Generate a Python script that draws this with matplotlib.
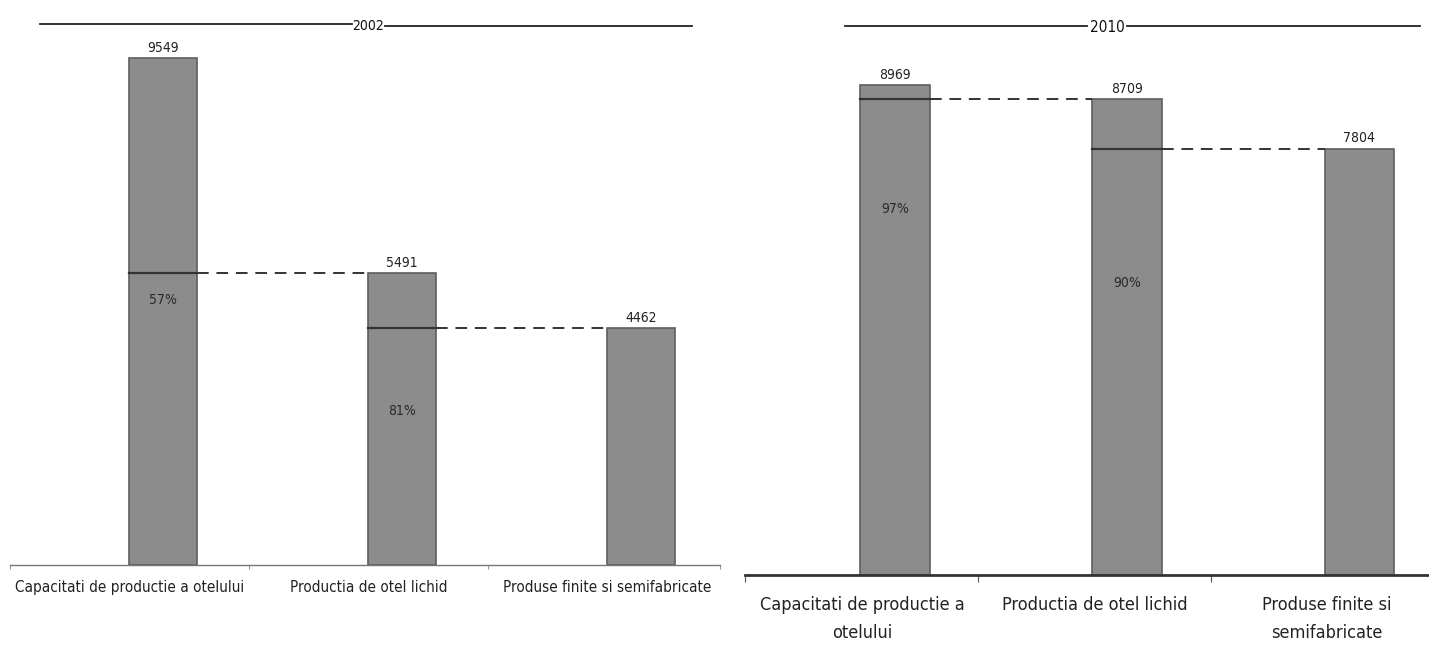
import matplotlib
matplotlib.use("Agg")
import matplotlib.pyplot as plt

plt.rcParams['font.family'] = ['DejaVu Sans']
plt.rcParams['font.stretch'] = 'condensed'

# ---------- data ----------
categories_2002 = ["Capacitati de productie a otelului", "Productia de otel lichid",
                   "Produse finite si semifabricate"]
values_2002 = [9549, 5491, 4462]
pct_2002 = ["57%", "81%"]

categories_2010 = ["Capacitati de productie a\notelului", "Productia de otel lichid",
                   "Produse finite si\nsemifabricate"]
values_2010 = [8969, 8709, 7804]
pct_2010 = ["97%", "90%"]

BAR = "#8c8c8c"
EDGE = "#5e5e5e"
W, H = 1429, 653


def panel(rect, vals, pcts, pct_frac, ymax, xlim, width, spine_col, spine_lw):
    ax = fig.add_axes(rect)
    x = list(range(len(vals)))
    ax.bar(x, vals, width=width, color=BAR, edgecolor=EDGE, linewidth=1.2, zorder=2)
    # value labels on top
    for xi, v in zip(x, vals):
        ax.text(xi, v + ymax * 0.006, str(v), ha="center", va="bottom", fontsize=10, color="#222222")
    # connector: solid across current bar, dashed to next bar
    for i in range(len(vals) - 1):
        nxt = vals[i + 1]
        ax.plot([i - width / 2, i + width / 2], [nxt, nxt], color="#333333", lw=1.6, zorder=3)
        ax.plot([i + width / 2, i + 1 - width / 2], [nxt, nxt], color="#333333", lw=1.4,
                ls=(0, (6, 4)), zorder=3)
        ax.text(i, nxt * pct_frac[i], pcts[i], ha="center", va="center", fontsize=10,
                color="#2a2a2a", zorder=4)
    ax.set_xlim(*xlim)
    ax.set_ylim(0, ymax)
    for s in ["left", "right", "top"]:
        ax.spines[s].set_visible(False)
    ax.spines["bottom"].set_color(spine_col)
    ax.spines["bottom"].set_linewidth(spine_lw)
    ax.set_yticks([])
    return ax


fig = plt.figure(figsize=(W / 100, H / 100), dpi=100)

# ----- 2002 -----
ax1 = panel([10 / W, 1 - 565 / H, 710 / W, 555 / H], values_2002, pct_2002,
            [0.91, 0.65], 10453, (-0.64, 2.33), 0.285, "#777777", 1.0)
ax1.set_xticks([-0.64, 0.36, 1.36, 2.33])
ax1.set_xticklabels([])
ax1.tick_params(axis="x", length=3, color="#999999")
ax1.set_xticks([-0.14, 0.86, 1.86], minor=True)
ax1.set_xticklabels(categories_2002, minor=True, fontsize=11, color="#222222")
ax1.tick_params(axis="x", which="minor", length=0, pad=11)

# ----- 2010 -----
ax2 = panel([745 / W, 1 - 575 / H, 684 / W, 565 / H], values_2010, pct_2010,
            [0.77, 0.685], 10342, (-0.647, 2.30), 0.30, "#333333", 2.0)
ax2.set_xticks([-0.647, 0.357, 1.36])
ax2.set_xticklabels([])
ax2.tick_params(axis="x", length=5, color="#555555")
ax2.set_xticks([-0.14, 0.86, 1.86], minor=True)
ax2.set_xticklabels(categories_2010, minor=True, fontsize=13, color="#222222", linespacing=1.7)
ax2.tick_params(axis="x", which="minor", length=0, pad=15)

# ----- panel titles with rules -----
fig.add_artist(plt.Line2D([40 / W, 352 / W], [1 - 24 / H] * 2, color="#222222", lw=1.3))
fig.add_artist(plt.Line2D([385 / W, 692 / W], [1 - 26 / H] * 2, color="#222222", lw=1.3))
fig.text(368 / W, 1 - 26 / H, "2002", ha="center", va="center", fontsize=10, color="#111111")

fig.add_artist(plt.Line2D([845 / W, 1087 / W], [1 - 26 / H] * 2, color="#222222", lw=1.3))
fig.add_artist(plt.Line2D([1127 / W, 1420 / W], [1 - 26 / H] * 2, color="#222222", lw=1.3))
fig.text(1107 / W, 1 - 28 / H, "2010", ha="center", va="center", fontsize=11, color="#111111")

fig.savefig("out.png", dpi=100)
